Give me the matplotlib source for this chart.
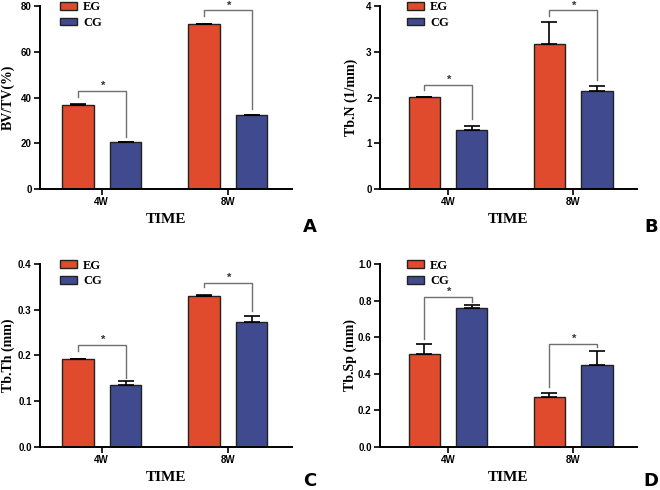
import numpy as np
import matplotlib
matplotlib.use("Agg")
import matplotlib.pyplot as plt
from matplotlib.transforms import blended_transform_factory

# data
groups = ["4W", "8W"]
series = ["EG", "CG"]

bvtv_eg = [36.6, 72.0]
bvtv_eg_err = [0.6, 0.3]
bvtv_cg = [20.4, 32.2]
bvtv_cg_err = [0.3, 0.2]

tbn_eg = [2.01, 3.17]
tbn_eg_err = [0.01, 0.47]
tbn_cg = [1.29, 2.15]
tbn_cg_err = [0.09, 0.10]

tbth_eg = [0.192, 0.331]
tbth_eg_err = [0.0, 0.002]
tbth_cg = [0.135, 0.273]
tbth_cg_err = [0.009, 0.014]

tbsp_eg = [0.507, 0.275]
tbsp_eg_err = [0.055, 0.020]
tbsp_cg = [0.762, 0.449]
tbsp_cg_err = [0.014, 0.076]

# significance brackets: (bar height, left drop, right drop) per group
bvtv_sig = [(42.9, 40.4, 22.9), (78.0, 75.4, 34.8)]
tbn_sig = [(2.28, 2.16, 1.53), (3.90, 3.79, 2.38)]
tbth_sig = [(0.223, 0.209, 0.151), (0.359, 0.349, 0.298)]
tbsp_sig = [(0.822, 0.589, 0.795), (0.564, 0.325, 0.549)]

RED = "#E04B2E"
BLUE = "#3F4A8F"
SERIF = "Liberation Serif"
SANS = "Liberation Sans"

fig = plt.figure(figsize=(6.6, 4.9), dpi=100)

panels = [
    # rect, ylabel, ylim, yticks, fmt, data, letter, letter pos (px), ylabel x (axes)
    ([40 / 660, 0.614, 252 / 660, 0.374], "BV/TV(%)", 80, [0, 20, 40, 60, 80], "{:.0f}",
     (bvtv_eg, bvtv_eg_err, bvtv_cg, bvtv_cg_err, bvtv_sig), "A", (310, 227), -0.10),
    ([380 / 660, 0.614, 257 / 660, 0.374], "Tb.N (1/mm)", 4, [0, 1, 2, 3, 4], "{:.0f}",
     (tbn_eg, tbn_eg_err, tbn_cg, tbn_cg_err, tbn_sig), "B", (651, 227), -0.086),
    ([40 / 660, 0.088, 252 / 660, 0.373], "Tb.Th (mm)", 0.4, [0, 0.1, 0.2, 0.3, 0.4], "{:.1f}",
     (tbth_eg, tbth_eg_err, tbth_cg, tbth_cg_err, tbth_sig), "C", (310, 481), -0.10),
    ([380 / 660, 0.088, 257 / 660, 0.373], "Tb.Sp (mm)", 1.0, [0, 0.2, 0.4, 0.6, 0.8, 1.0], "{:.1f}",
     (tbsp_eg, tbsp_eg_err, tbsp_cg, tbsp_cg_err, tbsp_sig), "D", (651, 481), -0.09),
]

x = np.arange(len(groups))
width = 0.25
off = 0.19

for rect, ylabel, ymax, yticks, fmt, data, letter, lpos, ylx in panels:
    eg, eg_err, cg, cg_err, sig = data
    ax = fig.add_axes(rect)
    ax.bar(x - off, eg, width, color=RED, edgecolor="#222222", linewidth=1.0, label="EG", zorder=2)
    ax.bar(x + off, cg, width, color=BLUE, edgecolor="#222222", linewidth=1.0, label="CG", zorder=2)
    ax.errorbar(x - off, eg, yerr=[np.zeros(len(eg)), eg_err], fmt="none", ecolor="black",
                elinewidth=1.2, capsize=6, capthick=1.2, zorder=3)
    ax.errorbar(x + off, cg, yerr=[np.zeros(len(cg)), cg_err], fmt="none", ecolor="black",
                elinewidth=1.2, capsize=6, capthick=1.2, zorder=3)

    for i, (top, left, right) in enumerate(sig):
        xl, xr = x[i] - off, x[i] + off
        ax.plot([xl, xl, xr, xr], [left, top, top, right], color="#707070", lw=1.0, zorder=4)
        ax.text(x[i] + 0.01, top, "*", ha="center", va="bottom",
                fontsize=8, fontfamily=SANS, fontweight="bold", color="#333333")

    if letter in ("A", "C"):
        ax.set_xlim(-0.49, 1.51)
    else:
        ax.set_xlim(-0.544, 1.51)
    ax.set_ylim(0, ymax)
    ax.set_yticks(yticks)
    ax.set_yticklabels([fmt.format(t) for t in yticks], fontfamily=SANS, fontweight="bold", fontsize=7)
    ax.set_xticks(x)
    ax.set_xticklabels(groups, fontfamily=SANS, fontweight="bold", fontsize=7)
    ax.tick_params(axis="both", direction="out", length=4, width=1.2, pad=2)
    for s in ["top", "right"]:
        ax.spines[s].set_visible(False)
    for s in ["left", "bottom"]:
        ax.spines[s].set_linewidth(1.4)
    ax.set_ylabel(ylabel, fontfamily=SERIF, fontweight="bold", fontsize=10)
    ax.yaxis.set_label_coords(ylx, 0.5)
    ax.set_xlabel("TIME", fontfamily=SERIF, fontweight="bold", fontsize=11, labelpad=4)
    trans = blended_transform_factory(ax.transData, ax.transAxes)
    ax.legend(loc="upper left", bbox_to_anchor=(x[0] - off - width / 2 - 0.015, 1.025),
              bbox_transform=trans, frameon=False, borderpad=0, borderaxespad=0,
              prop={"family": SERIF, "weight": "bold", "size": 9},
              handlelength=1.35, handleheight=0.55, labelspacing=0.3, handletextpad=0.5)
    fig.text(lpos[0] / 660, 1 - lpos[1] / 490, letter, fontsize=13, fontweight="bold",
             fontfamily="DejaVu Sans", ha="center", va="center")

fig.savefig("out.png", dpi=100)
